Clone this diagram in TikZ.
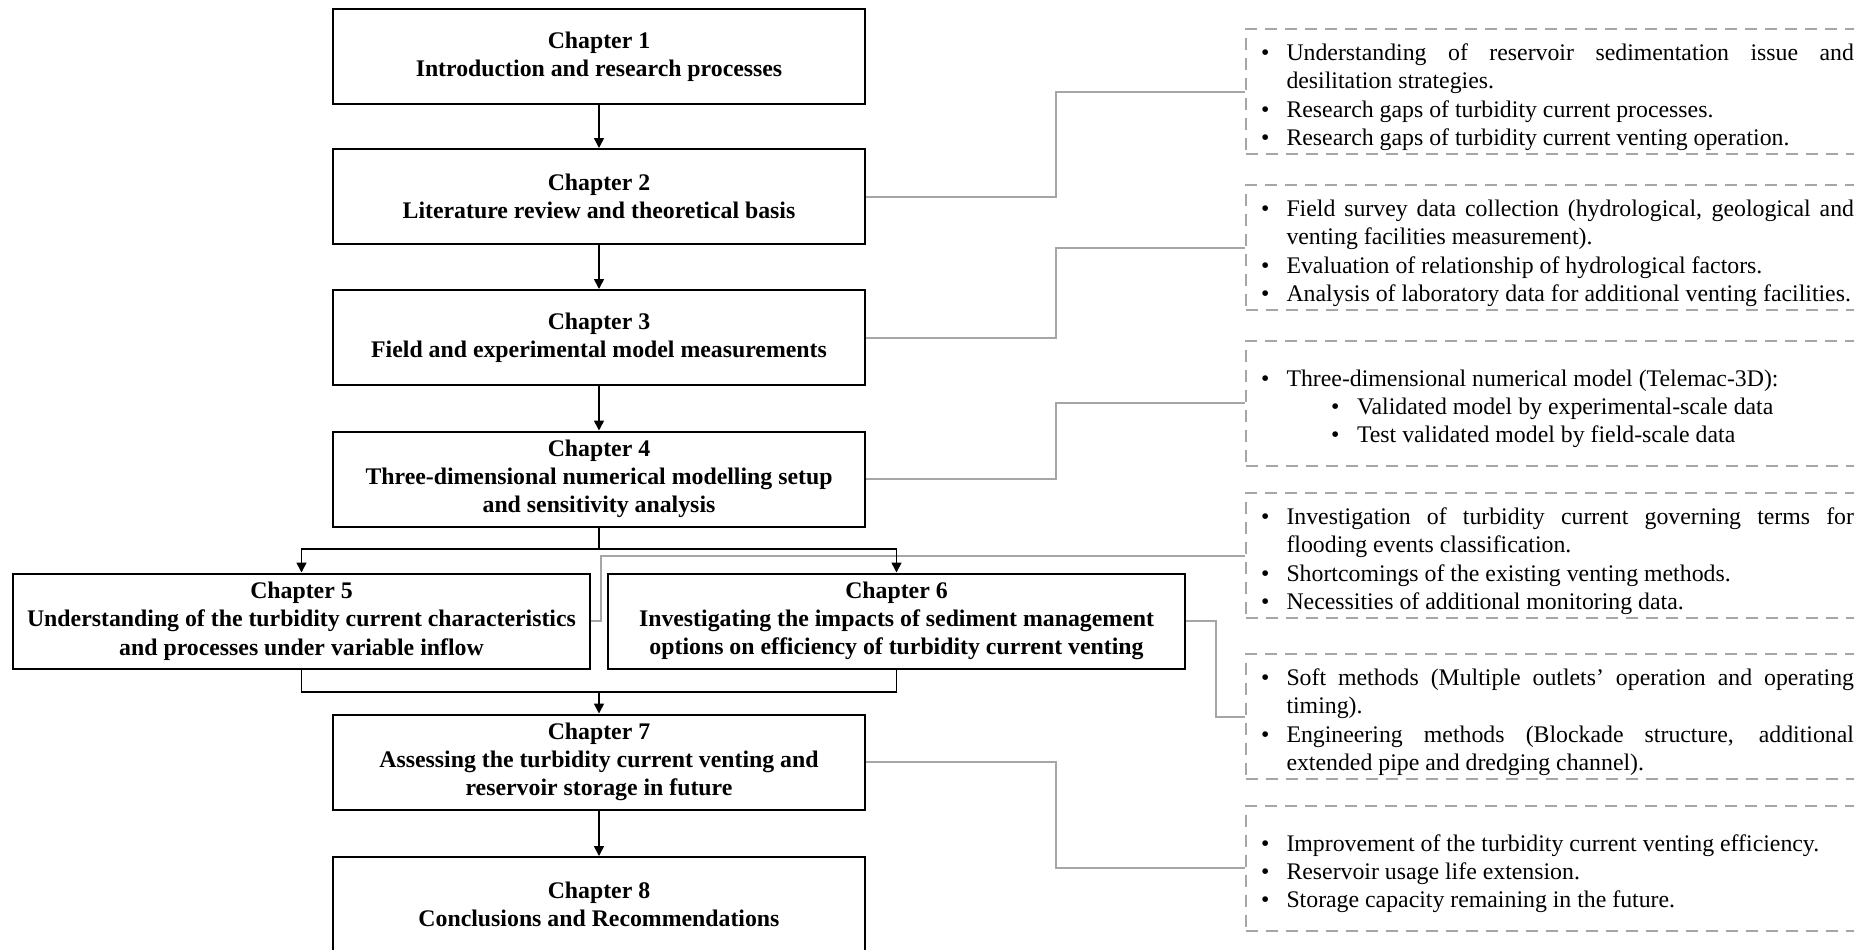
\documentclass[tikz,border=0pt]{standalone}
\usepackage{fontspec}
\setmainfont{Liberation Serif}
\usetikzlibrary{arrows.meta, positioning}

\definecolor{notegray}{RGB}{166,166,166}
\newcommand{\bpoint}[1]{\par\noindent\hangindent=12.75pt\hangafter=1\makebox[12.75pt][l]{\textbullet}#1\par}
\newcommand{\subpoint}[1]{\par\noindent\hspace*{35pt}\makebox[13pt][l]{\textbullet}#1\par}

\begin{document}
\begin{tikzpicture}[x=0.5pt, y=-0.5pt,
    chapbox/.style={draw, line width=1pt, minimum width=266pt, minimum height=47.5pt,
      inner sep=0pt, align=center, font=\fontsize{11.9}{14.15}\selectfont\bfseries},
    widebox/.style={chapbox, minimum width=288.5pt},
    notebox/.style={draw=notegray, line width=1pt, dash pattern=on 6pt off 4pt,
      text width=296.5pt, inner xsep=7.5pt, inner ysep=0pt, minimum height=62.5pt,
      align=justify, anchor=west, font=\fontsize{11.9}{14.15}\selectfont},
    flowline/.style={line width=0.8pt},
    flowarrow/.style={flowline, -{Triangle[length=5pt, width=5pt]}},
    noteline/.style={draw=notegray, line width=1pt}]
  \useasboundingbox (0,0) rectangle (1854,949);
  \clip (0,0) rectangle (1854,949);

  % chapters
  \node[chapbox] (ch1) at (599,56.5) {Chapter 1\\Introduction and research processes};
  \node[chapbox] (ch2) at (599,196.5) {Chapter 2\\Literature review and theoretical basis};
  \node[chapbox] (ch3) at (599,337.5) {Chapter 3\\Field and experimental model measurements};
  \node[chapbox] (ch4) at (599,479) {Chapter 4\\Three-dimensional numerical modelling setup\\and sensitivity analysis};
  \node[widebox] (ch5) at (301.5,621) {Chapter 5\\Understanding of the turbidity current characteristics\\and processes under variable inflow};
  \node[widebox] (ch6) at (896.5,621) {Chapter 6\\Investigating the impacts of sediment management\\options on efficiency of turbidity current venting};
  \node[chapbox] (ch7) at (599,762) {Chapter 7\\Assessing the turbidity current venting and\\reservoir storage in future};
  \node[chapbox] (ch8) at (599,904.5) {Chapter 8\\Conclusions and Recommendations};

  \coordinate (split) at (599,549);
  \coordinate (merge) at (599,692);

  % notes
  \node[notebox] (b1) at (1245,91.5) {%
    \bpoint{Understanding of reservoir sedimentation issue and\linebreak desilitation strategies.}%
    \bpoint{Research gaps of turbidity current processes.}%
    \bpoint{Research gaps of turbidity current venting operation.}};
  \node[notebox] (b2) at (1245,247.5) {%
    \bpoint{Field survey data collection (hydrological, geological and\linebreak venting facilities measurement).}%
    \bpoint{Evaluation of relationship of hydrological factors.}%
    \bpoint{Analysis of laboratory data for additional venting facilities.}};
  \node[notebox] (b3) at (1245,403) {%
    \bpoint{Three-dimensional numerical model (Telemac-3D):}%
    \subpoint{Validated model by experimental-scale data}%
    \subpoint{Test validated model by field-scale data}};
  \node[notebox] (b4) at (1245,555.5) {%
    \bpoint{Investigation of turbidity current governing terms for\linebreak flooding events classification.}%
    \bpoint{Shortcomings of the existing venting methods.}%
    \bpoint{Necessities of additional monitoring data.}};
  \node[notebox] (b5) at (1245,716.5) {%
    \bpoint{Soft methods (Multiple outlets’ operation and operating\linebreak timing).}%
    \bpoint{Engineering methods (Blockade structure, additional\linebreak extended pipe and dredging channel).}};
  \node[notebox] (b6) at (1245,868) {%
    \bpoint{Improvement of the turbidity current venting efficiency.}%
    \bpoint{Reservoir usage life extension.}%
    \bpoint{Storage capacity remaining in the future.}};

  % grey links to notes
  \draw[noteline] (ch2.east) -- ++(190,0) |- (b1.west);
  \draw[noteline] (ch3.east) -- ++(190,0) |- (b2.west);
  \draw[noteline] (ch4.east) -- ++(190,0) |- (b3.west);
  \draw[noteline] (ch5.east) -- ++(10,0) |- (b4.west);
  \draw[noteline] (ch6.east) -- ++(30,0) |- (b5.west);
  \draw[noteline] (ch7.east) -- ++(190,0) |- (b6.west);

  % flow
  \draw[flowarrow] (ch1) -- (ch2);
  \draw[flowarrow] (ch2) -- (ch3);
  \draw[flowarrow] (ch3) -- (ch4);
  \draw[flowline] (ch4.south) -- (split);
  \draw[flowarrow] (split) -| (ch5.north);
  \draw[flowarrow] (split) -| (ch6.north);
  \draw[flowline] (ch5.south) |- (merge);
  \draw[flowline] (ch6.south) |- (merge);
  \draw[flowarrow] (merge) -- (ch7.north);
  \draw[flowarrow] (ch7) -- (ch8);
\end{tikzpicture}
\end{document}
